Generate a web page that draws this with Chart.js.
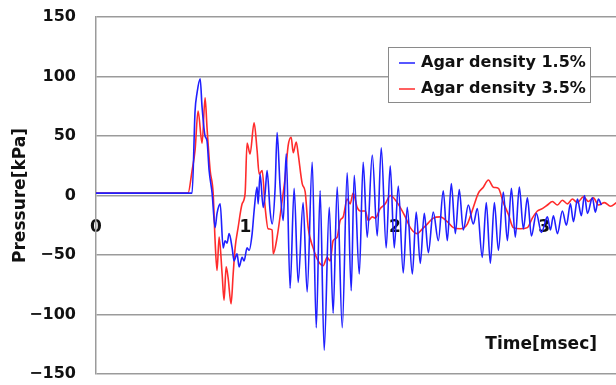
<!DOCTYPE html>
<html>
<head>
<meta charset="utf-8">
<script src="https://cdn.jsdelivr.net/npm/chart.js@4.4.1/dist/chart.umd.min.js"></script>
<style>
  html, body { margin: 0; padding: 0; background: #fff; }
  canvas { display: block; }
</style>
</head>
<body>
<canvas id="chart" width="616" height="385"></canvas>
<script>
// Values: time in msec, pressure in kPa.
const blueTime = [0, 0.643, 0.663, 0.676, 0.697, 0.710, 0.730, 0.743, 0.757, 0.777, 0.797, 0.810, 0.831, 0.851, 0.864, 0.877, 0.891, 0.911, 0.924, 0.944, 0.958, 0.978, 0.991, 1.011, 1.025, 1.045, 1.058, 1.078, 1.085, 1.098, 1.119, 1.132, 1.145, 1.165, 1.179, 1.199, 1.212, 1.232, 1.253, 1.273, 1.299, 1.326, 1.353, 1.386, 1.413, 1.447, 1.474, 1.500, 1.527, 1.561, 1.587, 1.614, 1.648, 1.681, 1.708, 1.728, 1.762, 1.788, 1.815, 1.849, 1.882, 1.909, 1.942, 1.969, 1.996, 2.023, 2.056, 2.083, 2.117, 2.143, 2.170, 2.197, 2.224, 2.257, 2.291, 2.324, 2.351, 2.378, 2.405, 2.431, 2.458, 2.492, 2.525, 2.552, 2.585, 2.612, 2.639, 2.666, 2.693, 2.726, 2.753, 2.780, 2.806, 2.833, 2.860, 2.887, 2.914, 2.947, 2.981, 3.021, 3.041, 3.061, 3.088, 3.121, 3.148, 3.175, 3.195, 3.222, 3.248, 3.269, 3.289, 3.322, 3.342, 3.362, 3.382];
const bluePressure = [2, 2, 71, 86, 98, 74, 50, 46, 21, 2, -27, -15, -7, -44, -38, -40, -32, -44, -55, -49, -60, -52, -55, -44, -46, -32, -13, 7, -7, 18, -10, 2, 21, -13, -24, 7, 53, 7, -21, 35, -78, 6, -73, -6, -81, 28, -111, 4, -130, -10, -99, 7, -111, 19, -80, 17, -66, 28, -35, 34, -34, 40, -44, 25, -44, 8, -65, -10, -66, -14, -57, -15, -48, -14, -38, 4, -38, 10, -32, 5, -29, -8, -24, -11, -52, -6, -57, -6, -46, 3, -38, 6, -35, 7, -28, -2, -34, -15, -31, -18, -29, -17, -32, -13, -25, -7, -22, -3, -17, 0, -15, -2, -14, -3, -8];

const redTime = [0, 0.616, 0.643, 0.663, 0.683, 0.710, 0.730, 0.743, 0.764, 0.784, 0.797, 0.810, 0.824, 0.844, 0.857, 0.871, 0.884, 0.904, 0.918, 0.931, 0.951, 0.978, 0.998, 1.011, 1.031, 1.058, 1.078, 1.092, 1.112, 1.132, 1.152, 1.179, 1.186, 1.212, 1.246, 1.266, 1.286, 1.306, 1.320, 1.340, 1.353, 1.380, 1.400, 1.420, 1.453, 1.487, 1.520, 1.547, 1.567, 1.587, 1.614, 1.634, 1.654, 1.681, 1.701, 1.721, 1.748, 1.768, 1.802, 1.822, 1.849, 1.869, 1.902, 1.936, 1.969, 2.016, 2.070, 2.103, 2.150, 2.184, 2.217, 2.257, 2.304, 2.351, 2.391, 2.438, 2.485, 2.525, 2.559, 2.592, 2.626, 2.659, 2.693, 2.726, 2.760, 2.793, 2.840, 2.887, 2.920, 2.954, 2.987, 3.021, 3.054, 3.088, 3.121, 3.155, 3.188, 3.222, 3.262, 3.295, 3.329, 3.362, 3.403, 3.443, 3.483];
const redPressure = [2, 2, 21, 38, 71, 44, 82, 57, 21, 2, -38, -63, -35, -66, -88, -60, -69, -91, -66, -44, -27, -7, 2, 44, 35, 61, 38, 18, 21, -10, -28, -29, -49, -35, -4, 15, 42, 49, 36, 45, 35, 10, 3, -27, -44, -55, -59, -52, -55, -38, -35, -21, -18, -3, -7, 2, -10, -13, -13, -21, -18, -19, -11, -7, 0, -6, -18, -27, -32, -28, -24, -19, -18, -22, -27, -28, -24, -10, 2, 7, 13, 7, 6, -6, -16, -27, -28, -27, -19, -13, -11, -8, -5, -8, -4, -7, -3, -6, -1, -5, -2, -8, -6, -9, -6];

const seriesLabels = ['Agar density 1.5%', 'Agar density 3.5%'];
const xTicks = [0, 1, 2, 3];
const yTicks = [-150, -100, -50, 0, 50, 100, 150];
const xTitle = 'Time[msec]';
const yTitle = 'Pressure[kPa]';

const FONT = '"DejaVu Sans", sans-serif';
const GRID = '#9b9b9b';
const INK = '#111';

function points(xs, ys) {
  return xs.map((x, i) => ({ x, y: ys[i] }));
}

// Legend box and x title sit inside the plot, so they are painted by hand.
const overlay = {
  id: 'overlay',
  afterDraw(chart) {
    const { ctx, chartArea: a } = chart;
    const boxW = 202, boxH = 55;
    const bx = a.right - 26 - boxW;
    const by = a.top + 30;
    ctx.save();
    ctx.fillStyle = '#fff';
    ctx.fillRect(bx, by, boxW, boxH);
    ctx.strokeStyle = '#8a8a8a';
    ctx.lineWidth = 1;
    ctx.strokeRect(bx + 0.5, by + 0.5, boxW, boxH);

    ctx.font = 'bold 16px ' + FONT;
    ctx.textBaseline = 'middle';
    chart.data.datasets.forEach((ds, i) => {
      const y = by + 16 + i * 26;
      ctx.strokeStyle = ds.borderColor;
      ctx.lineWidth = 1.5;
      ctx.beginPath();
      ctx.moveTo(bx + 11, y);
      ctx.lineTo(bx + 27, y);
      ctx.stroke();
      ctx.fillStyle = INK;
      ctx.fillText(ds.label, bx + 33, y);
    });

    ctx.font = 'bold 17px ' + FONT;
    ctx.textAlign = 'right';
    ctx.fillText(xTitle, a.right - 19, a.bottom - 29);
    ctx.restore();
  }
};

new Chart(document.getElementById('chart'), {
  type: 'line',
  data: {
    datasets: [
      {
        label: seriesLabels[0],
        data: points(blueTime, bluePressure),
        borderColor: '#1f1fff',
        borderWidth: 1.6,
        pointRadius: 0,
        cubicInterpolationMode: 'monotone',
        fill: false
      },
      {
        label: seriesLabels[1],
        data: points(redTime, redPressure),
        borderColor: '#ff2b2b',
        borderWidth: 1.6,
        pointRadius: 0,
        cubicInterpolationMode: 'monotone',
        fill: false
      }
    ]
  },
  options: {
    responsive: false,
    animation: false,
    layout: { padding: { left: 0, top: 17, right: 0, bottom: 11 } },
    scales: {
      x: {
        type: 'linear',
        position: { y: 0 },
        min: 0,
        max: 3.48,
        afterBuildTicks: s => { s.ticks = xTicks.map(v => ({ value: v })); },
        afterFit: s => { s.height = 0; },
        grid: { display: false, drawTicks: false },
        border: { display: false },
        ticks: { padding: 22, color: INK, font: { family: FONT, size: 17, weight: 'bold' } }
      },
      y: {
        min: -150,
        max: 150,
        afterBuildTicks: s => { s.ticks = yTicks.map(v => ({ value: v })); },
        afterFit: s => { s.width = 96; },
        // tick padding would also pad the plot top/bottom, so use an invisible tick length instead
        grid: { color: GRID, lineWidth: 1.5, drawTicks: true, tickLength: 20, tickColor: 'rgba(0,0,0,0)' },
        border: { color: GRID, width: 1.5 },
        ticks: {
          padding: 0,
          color: INK,
          font: { family: FONT, size: 16, weight: 'bold' },
          callback: v => String(v).replace('-', '\u2212')
        },
        title: {
          display: true,
          text: yTitle,
          color: INK,
          font: { family: FONT, size: 17, weight: 'bold' },
          padding: { top: 10, bottom: 0 }
        }
      }
    },
    plugins: { legend: { display: false }, tooltip: { enabled: false } }
  },
  plugins: [overlay]
});
</script>
</body>
</html>
